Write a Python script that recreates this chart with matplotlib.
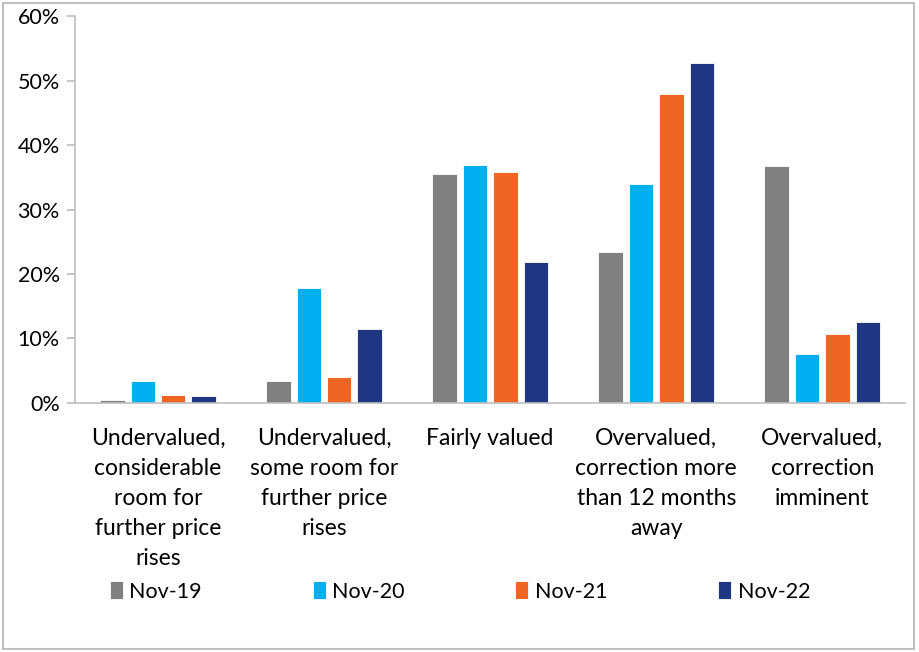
import numpy as np
import matplotlib
matplotlib.use("Agg")
import matplotlib.pyplot as plt
from matplotlib.patches import Rectangle
from matplotlib.ticker import FuncFormatter

plt.rcParams['font.family'] = ['Lato', 'DejaVu Sans']

categories = ["Undervalued,\nconsiderable\nroom for\nfurther price\nrises",
              "Undervalued,\nsome room for\nfurther price\nrises",
              "Fairly valued",
              "Overvalued,\ncorrection more\nthan 12 months\naway",
              "Overvalued,\ncorrection\nimminent"]
series = ["Nov-19", "Nov-20", "Nov-21", "Nov-22"]
nov19 = [0.5, 3.4, 35.6, 23.5, 36.7]
nov20 = [3.4, 17.9, 37.0, 34.0, 7.6]
nov21 = [1.2, 4.1, 35.9, 47.9, 10.7]
nov22 = [1.1, 11.4, 21.8, 52.8, 12.6]
colors = ["#808080", "#00B0F0", "#F06522", "#1F3683"]

fig = plt.figure(figsize=(9.2, 6.52), dpi=100)
ax = fig.add_axes([0.0815, 0.382, 0.9025, 0.593])

x = np.arange(len(categories))
pitch = 0.183
width = 0.147
for i, (vals, name) in enumerate(zip([nov19, nov20, nov21, nov22], series)):
    ax.bar(x + (i - 1.5) * pitch, vals, width, color=colors[i], label=name,
           edgecolor="white", linewidth=0.6)

ax.set_xlim(-0.5, 4.5)
ax.set_ylim(0, 60)
ax.set_yticks(range(0, 61, 10))
ax.yaxis.set_major_formatter(FuncFormatter(lambda v, p: f"{int(v)}%"))
ax.tick_params(axis="y", labelsize=15.5, length=6, color="#BFBFBF", width=1.2, pad=5)
ax.tick_params(axis="x", length=0, pad=18, labelsize=16.5)
ax.set_xticks(x)
ax.set_xticklabels(categories, linespacing=1.53)
for s in ["top", "right"]:
    ax.spines[s].set_visible(False)
for s in ["left", "bottom"]:
    ax.spines[s].set_color("#BFBFBF")
    ax.spines[s].set_linewidth(1.2)

fig.legend(loc="center", bbox_to_anchor=(0.50, 0.093), ncol=4, frameon=False,
           fontsize=15.5, handlelength=0.6, handleheight=0.9, handletextpad=0.3,
           columnspacing=5.15)

fig.patches.append(Rectangle((0.003, 0.005), 0.991, 0.99, transform=fig.transFigure,
                             fill=False, edgecolor="#BFBFBF", linewidth=1.5))

fig.savefig("out.png", dpi=100)
